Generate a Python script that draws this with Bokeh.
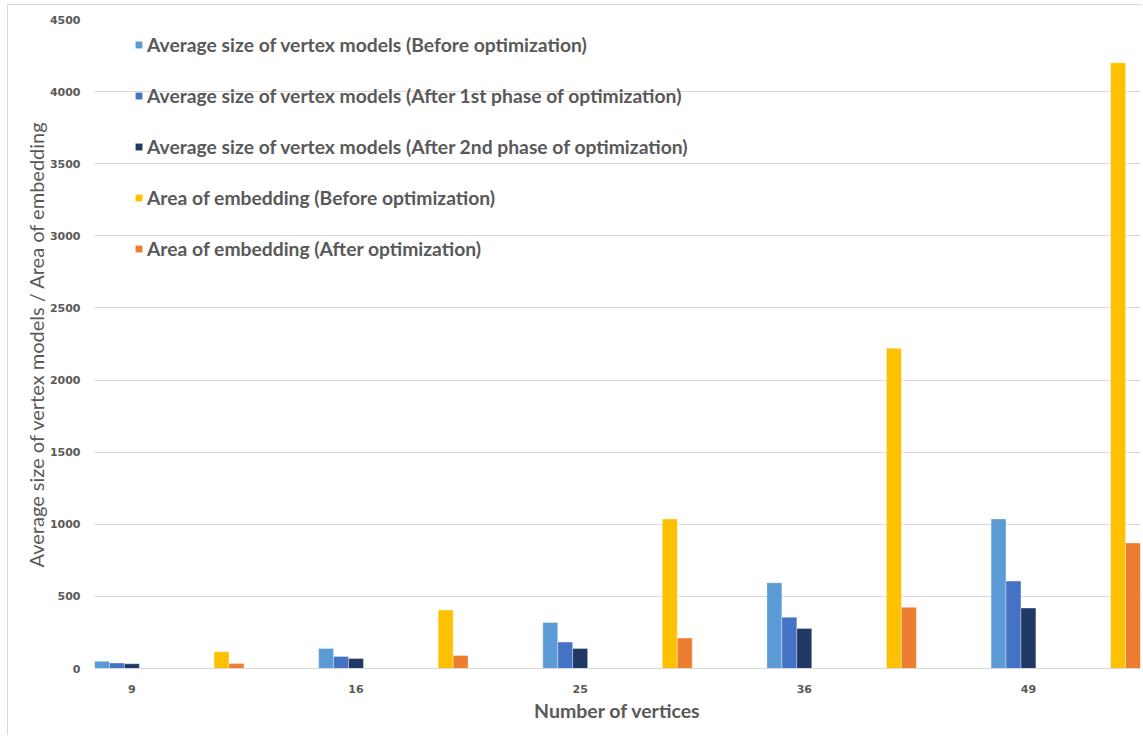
from bokeh.plotting import figure
from bokeh.models import ColumnDataSource, Range1d, FixedTicker, Legend, LegendItem
from bokeh.embed import file_html
from bokeh.resources import INLINE

# Data
vertices = ["9", "16", "25", "36", "49"]
size_before = [50, 139, 319, 595, 1037]
size_phase1 = [38, 83, 183, 356, 606]
size_phase2 = [33, 69, 139, 278, 419]
area_before = [117, 405, 1037, 2220, 4200]
area_after = [34, 90, 211, 424, 871]

series_names = [
    "Average size of vertex models (Before optimization)",
    "Average size of vertex models (After 1st phase of optimization)",
    "Average size of vertex models (After 2nd phase of optimization)",
    "Area of embedding (Before optimization)",
    "Area of embedding (After optimization)",
]
series_values = [size_before, size_phase1, size_phase2, area_before, area_after]
colors = ["#5B9BD5", "#4472C4", "#203864", "#FFC000", "#ED7D31"]

# Slot layout: each vertex group spans 15 bar slots; the vertex-model bars
# sit in slots 0-2 and the embedding-area bars in slots 8-9.
group_span = 15
slot_offsets = [0.5, 1.5, 2.5, 8.5, 9.5]
label_offset = 2.5

TEXT = "#595959"
GRID = "#D9D9D9"

# The figure sits 8px in and 5px down, with a thin chart border drawn round it.
p = figure(width=1135, height=731, output_backend="svg", toolbar_location=None,
           x_range=Range1d(0, group_span * (len(vertices) - 1) + 10),
           y_range=Range1d(0, 4500),
           min_border_left=86, min_border_right=3, min_border_top=14, min_border_bottom=68)
p.margin = (5, 0, 0, 8)
p.styles = {"box-shadow": "-1px -1px 0 0 #D9D9D9"}

renderers = []
for name, vals, off, col in zip(series_names, series_values, slot_offsets, colors):
    xs = [group_span * i + off for i in range(len(vals))]
    src = ColumnDataSource(dict(x=xs, top=vals))
    r = p.vbar(x="x", top="top", width=1.0, bottom=0, source=src,
               fill_color=col, line_color="white", line_alpha=0.35, line_width=1)
    renderers.append((name, r))

# Axes
ticks = [group_span * i + label_offset for i in range(len(vertices))]
p.xaxis.ticker = FixedTicker(ticks=ticks)
p.xaxis.major_label_overrides = {t: v for t, v in zip(ticks, vertices)}
p.xaxis.axis_label = "Number of vertices"
p.xaxis.axis_label_text_font = "Lato"
p.xaxis.axis_label_text_font_style = "bold"
p.xaxis.axis_label_text_font_size = "19.5px"
p.xaxis.axis_label_text_color = TEXT
p.xaxis.axis_label_standoff = 3
p.xaxis.axis_line_color = GRID
p.xaxis.major_tick_line_color = None
p.xaxis.minor_tick_line_color = None
p.xaxis.major_label_standoff = 10

p.yaxis.ticker = FixedTicker(ticks=list(range(0, 4501, 500)))
p.yaxis.axis_label = "Average size of vertex models / Area of embedding"
p.yaxis.axis_label_text_font = "Lato"
p.yaxis.axis_label_text_font_style = "normal"
p.yaxis.axis_label_text_font_size = "20px"
p.yaxis.axis_label_text_color = TEXT
p.yaxis.axis_label_standoff = -1
p.yaxis.axis_line_color = None
p.yaxis.major_tick_line_color = None
p.yaxis.minor_tick_line_color = None
p.yaxis.major_label_standoff = 8

for ax in (p.xaxis, p.yaxis):
    ax.major_label_text_font = "DejaVu Sans"
    ax.major_label_text_font_style = "bold"
    ax.major_label_text_font_size = "11px"
    ax.major_label_text_color = TEXT

p.xgrid.grid_line_color = None
p.ygrid.grid_line_color = GRID
p.ygrid.grid_line_width = 1
p.outline_line_color = None

legend = Legend(items=[LegendItem(label=n, renderers=[r]) for n, r in renderers],
                location=(40, 408), orientation="vertical",
                glyph_width=9, glyph_height=9, label_standoff=4,
                label_height=24, spacing=27, padding=0, margin=0,
                border_line_color=None, background_fill_alpha=0,
                label_text_font="Lato", label_text_font_style="bold",
                label_text_font_size="19.3px", label_text_color=TEXT)
p.add_layout(legend, "center")

open("out.html", "w").write(file_html(p, INLINE))
